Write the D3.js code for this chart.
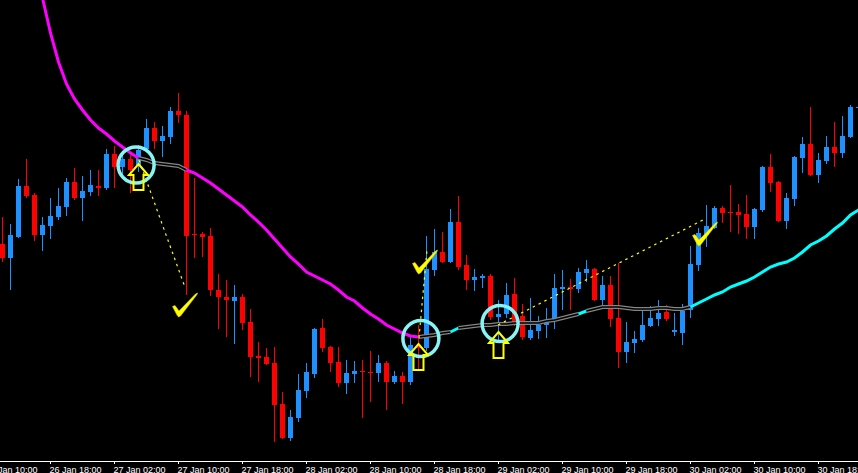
<!DOCTYPE html>
<html>
<head>
<meta charset="utf-8">
<script src="https://cdn.jsdelivr.net/npm/d3@7/dist/d3.min.js"></script>
<style>
html, body { margin: 0; padding: 0; background: #000; overflow: hidden; }
</style>
</head>
<body>
<div id="chart"></div>
<script>
// H1 candles, prices in points
var opens  = [256,242,263,314,305,265,274,283,293,318,302,308,314,312,346,333,341,335,351,372,359,363,389,385,266,266,264,210,203,199,203,178,144,143,137,96,62,82,109,126,172,153,138,117,126,129,128,127,137,118,124,118,154,152,230,248,238,278,235,220,222,224,183,186,206,184,162,169,175,180,211,213,211,227,231,200,215,182,148,157,160,174,181,188,168,167,190,235,265,272,292,288,288,286,273,290,333,318,279,301,342,356,325,339,353,347,363,392];
var highs  = [283,276,321,341,307,283,302,312,322,332,324,330,330,351,354,348,345,355,381,378,374,393,407,389,322,268,272,226,220,215,206,191,158,152,153,108,90,126,137,172,181,154,153,140,139,140,149,145,139,129,128,163,175,264,271,268,291,304,245,231,226,226,200,217,222,196,202,184,192,226,230,221,232,240,232,224,224,237,178,169,190,194,200,195,187,196,254,272,295,294,294,315,296,305,292,334,346,319,307,344,363,393,347,364,378,384,395,395];
var lows   = [238,210,262,302,259,249,261,280,284,300,279,304,304,310,312,325,307,328,348,351,343,356,377,205,242,243,204,171,163,156,170,123,118,135,58,61,59,78,102,122,148,128,113,106,117,82,98,118,90,116,96,115,130,149,224,237,237,230,210,209,212,180,160,182,174,160,160,161,162,171,190,190,207,218,199,194,173,132,137,147,158,173,174,179,164,155,182,229,253,271,277,268,266,261,261,288,308,278,271,294,327,324,317,336,333,342,362,390];
var closes = [242,265,314,304,265,275,284,294,318,302,309,315,312,346,333,341,330,350,372,359,364,389,385,264,265,263,210,203,200,203,177,143,142,136,95,62,83,110,128,171,152,137,117,127,129,128,127,137,118,124,118,155,152,231,248,238,278,233,220,223,224,183,186,205,177,163,170,175,180,212,213,211,228,231,200,215,181,148,158,161,175,182,187,181,170,189,236,267,274,292,287,287,285,273,291,333,317,279,302,343,356,325,340,353,347,364,393,393];

// moving average, first value belongs to candle 4
var maStart = 4;
var maValues = [538,502,467,438,416,401,390,380,372,366,359,353,347,342,340,337,336,335,334,330,327,322,317,311,305,299,293,285,278,270,261,252,243,236,228,224,220,216,210,203,199,192,186,181,175,171,167,164,163,164,165,167,168,172,173,174,175,175,176,176,177,177,177,177,179,180,182,184,186,189,191,193,193,193,192,191,191,191,192,192,191,191,193,197,201,205,208,213,216,219,223,228,233,236,238,242,248,255,259,264,271,277,285,290];
var maRuns = [[4,17,"down"],[17,23,"flat"],[23,52,"down"],[52,56,"flat"],[56,57,"up"],[57,72,"flat"],[72,73,"up"],[73,86,"flat"],[86,107,"up"]];

var tickIndex  = [-2,6,14,22,30,38,46,54,62,70,78,86,94,102];
var tickLabels = ["26 Jan 10:00","26 Jan 18:00","27 Jan 02:00","27 Jan 10:00","27 Jan 18:00","28 Jan 02:00","28 Jan 10:00","28 Jan 18:00","29 Jan 02:00","29 Jan 10:00","29 Jan 18:00","30 Jan 02:00","30 Jan 10:00","30 Jan 18:00"];

// signal marks
var circleK = [16.7, 52.3, 62.2];
var circleP = [335, 161.5, 176.5];
var arrowK = [17, 52, 62];
var arrowP = [336, 156, 168];
var checkK = [22, 52, 87];
var checkP = [183, 226, 254];
var signalFrom = [[17.06, 340], [52.06, 162], [61.94, 175]];
var signalTo   = [[22.8, 213], [53.06, 250], [87.8, 281]];

var width = 858, height = 473;
var UP = "#1e90ff", DOWN = "#ff0000";

var svg = d3.select("#chart").append("svg")
    .attr("width", width)
    .attr("height", height)
    .style("display", "block")
    .style("background", "#000");

var x = d3.scaleLinear().domain([0, 107]).range([2, 858]);
var y = d3.scaleLinear().domain([0, 500]).range([500, 0]);

var idx = d3.range(opens.length);
function col(i) { return closes[i] >= opens[i] ? UP : DOWN; }

// candles
var cg = svg.append("g").attr("shape-rendering", "crispEdges");
cg.selectAll(".wick").data(idx).join("rect")
    .attr("x", function(i) { return x(i); })
    .attr("y", function(i) { return Math.round(y(highs[i])); })
    .attr("width", 1)
    .attr("height", function(i) { return Math.max(1, Math.round(y(lows[i]) - y(highs[i]))); })
    .attr("fill", col);
cg.selectAll(".body").data(idx).join("rect")
    .attr("x", function(i) { return x(i) - 2; })
    .attr("y", function(i) { return Math.round(y(Math.max(opens[i], closes[i]))); })
    .attr("width", 5)
    .attr("height", function(i) { return Math.max(1, Math.round(Math.abs(y(opens[i]) - y(closes[i])))); })
    .attr("fill", col);

// moving average
var line = d3.line()
    .x(function(k) { return x(k) + 0.5; })
    .y(function(k) { return y(maValues[k - maStart]); });

maRuns.forEach(function(r) {
    var pts = d3.range(r[0], r[1] + 1);
    if (r[2] == "flat") {
        svg.append("path").attr("d", line(pts)).attr("fill", "none")
            .attr("stroke", "#858585").attr("stroke-width", 4);
        svg.append("path").attr("d", line(pts)).attr("fill", "none")
            .attr("stroke", "#000").attr("stroke-width", 1.6);
    } else {
        svg.append("path").attr("d", line(pts)).attr("fill", "none")
            .attr("stroke", r[2] == "down" ? "#ff00ff" : "#00ffff")
            .attr("stroke-width", 3);
    }
});

// dotted signal lines
signalFrom.forEach(function(a, i) {
    var b = signalTo[i];
    svg.append("line")
        .attr("x1", x(a[0]) + 0.5).attr("y1", y(a[1]))
        .attr("x2", x(b[0]) + 0.5).attr("y2", y(b[1]))
        .attr("stroke", "#ffff00").attr("stroke-width", 1.2)
        .attr("stroke-dasharray", "2.5,4");
});

// circles
circleK.forEach(function(k, i) {
    svg.append("circle")
        .attr("cx", x(k) + 0.5).attr("cy", y(circleP[i]))
        .attr("r", 18)
        .attr("fill", "none")
        .attr("stroke", "#88f4f4")
        .attr("stroke-width", 3.5);
});

// up arrows
arrowK.forEach(function(k, i) {
    var cx = x(k) + 0.5, ty = y(arrowP[i]);
    var p = d3.path();
    p.moveTo(cx, ty);
    p.lineTo(cx + 9.5, ty + 11);
    p.lineTo(cx + 5, ty + 11);
    p.lineTo(cx + 5, ty + 26);
    p.lineTo(cx - 5, ty + 26);
    p.lineTo(cx - 5, ty + 11);
    p.lineTo(cx - 9.5, ty + 11);
    p.closePath();
    svg.append("path").attr("d", p.toString())
        .attr("fill", "none").attr("stroke", "#ffff00").attr("stroke-width", 2)
        .attr("stroke-linejoin", "miter");
});

// check marks
var checkShape = [[-6,-10.5],[-3.5,-11.5],[0.5,-6],[17,-23],[19,-24],[18.5,-22.5],[2,-1],[0,0],[-1.5,-2]];
checkK.forEach(function(k, i) {
    var bx = x(k) + 0.5, by = y(checkP[i]);
    svg.append("path")
        .attr("d", d3.line()(checkShape.map(function(q) { return [bx + q[0], by + q[1]]; })) + "Z")
        .attr("fill", "#ffff00")
        .attr("stroke", "#e8d000").attr("stroke-width", 0.6);
});

// time axis
var axis = d3.axisBottom(x)
    .tickValues(tickIndex)
    .tickFormat(function(d, i) { return tickLabels[i]; })
    .tickSize(3)
    .tickSizeOuter(0);
var ag = svg.append("g").attr("transform", "translate(0,461)").call(axis);
ag.select(".domain").remove();
ag.insert("line", ":first-child")
    .attr("x1", 0).attr("x2", width).attr("y1", 0.5).attr("y2", 0.5)
    .attr("stroke", "#fff").attr("shape-rendering", "crispEdges");
ag.selectAll(".tick line").attr("stroke", "#fff").attr("shape-rendering", "crispEdges");
ag.selectAll(".tick text")
    .attr("fill", "#fff")
    .attr("text-anchor", "start")
    .attr("x", -1).attr("y", 11.5).attr("dy", null)
    .style("font-family", "'Liberation Sans', Arial, sans-serif")
    .style("font-size", "9px");
</script>
</body>
</html>
